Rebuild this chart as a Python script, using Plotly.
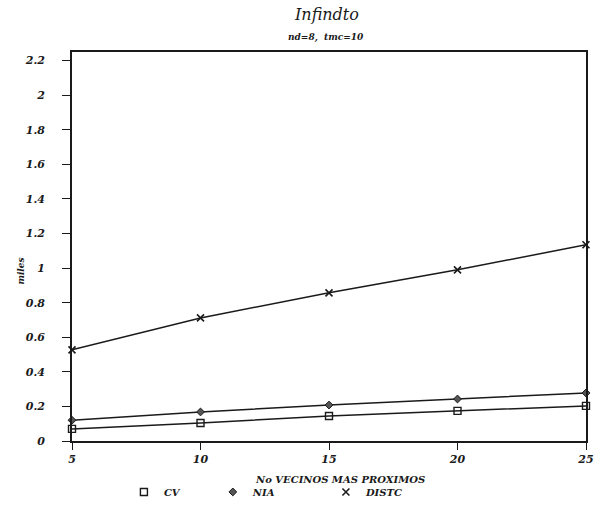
import plotly.graph_objects as go

# Number of nearest neighbours
vecinos = [5, 10, 15, 20, 25]

# Series values
cv = [0.07, 0.104, 0.145, 0.174, 0.203]
nia = [0.12, 0.168, 0.208, 0.243, 0.278]
distc = [0.527, 0.712, 0.857, 0.99, 1.135]

y_ticks = [0, 0.2, 0.4, 0.6, 0.8, 1, 1.2, 1.4, 1.6, 1.8, 2, 2.2]
y_tick_text = ["0", "0.2", "0.4", "0.6", "0.8", "1", "1.2", "1.4", "1.6", "1.8", "2", "2.2"]

ink = "#1a1a1a"
bold_it = dict(family="DejaVu Serif", color=ink, style="italic", weight="bold")
tick_font = dict(bold_it, size=11)

series = [
    ("CV", cv, dict(symbol="square-open", size=7, color=ink, line=dict(width=1.4, color=ink)), "legend", 0.101),
    ("NIA", nia, dict(symbol="diamond", size=6, color="#555555", line=dict(width=1, color=ink)), "legend2", 0.274),
    ("DISTC", distc, dict(symbol="x-thin-open", size=7, color=ink, line=dict(width=1.6, color=ink)), "legend3", 0.494),
]

fig = go.Figure()
for name, vals, mk, lg, lx in series:
    fig.add_trace(go.Scatter(
        x=vecinos, y=vals, mode="lines+markers", name=name,
        line=dict(color=ink, width=1.5), marker=mk, showlegend=False,
        cliponaxis=False,
    ))
# legend entries show the symbol only, each in its own legend box
legend_layout = {}
for name, vals, mk, lg, lx in series:
    fig.add_trace(go.Scatter(
        x=[None], y=[None], mode="markers", name=name, marker=mk,
        showlegend=True, legend=lg,
    ))
    legend_layout[lg] = dict(
        x=lx, xanchor="left", y=-0.131, yanchor="middle",
        font=dict(bold_it, size=10), bgcolor="rgba(0,0,0,0)",
    )

fig.update_layout(
    width=603, height=508,
    margin=dict(l=72, r=17, t=52, b=67, autoexpand=False),
    paper_bgcolor="white", plot_bgcolor="white",
    showlegend=True,
    **legend_layout,
)

fig.add_annotation(text="Infindto", xref="paper", yref="paper", x=0.495, y=1.097,
                   yanchor="middle", showarrow=False,
                   font=dict(family="DejaVu Serif", size=16, color=ink, style="italic"))
fig.add_annotation(text="nd=8,  tmc=10", xref="paper", yref="paper", x=0.495, y=1.036,
                   yanchor="middle", showarrow=False, font=dict(bold_it, size=9))
fig.add_annotation(text="No VECINOS MAS PROXIMOS", xref="paper", yref="paper",
                   x=0.522, y=-0.1, yanchor="middle", showarrow=False,
                   font=dict(bold_it, size=10))
fig.add_annotation(text="miles", xref="paper", yref="paper",
                   x=-0.1, y=0.437, xanchor="center", yanchor="middle",
                   textangle=-90, showarrow=False, font=dict(bold_it, size=9))

fig.update_xaxes(
    range=[5, 25], tickvals=vecinos, ticktext=[str(v) for v in vecinos],
    ticks="outside", ticklen=7, tickwidth=1.4, tickcolor=ink,
    showline=True, linecolor=ink, linewidth=1.6, mirror=True,
    showgrid=False, zeroline=False, tickfont=tick_font, ticklabelstandoff=0,
)
fig.update_yaxes(
    range=[0, 2.25], tickvals=y_ticks, ticktext=y_tick_text,
    ticks="outside", ticklen=8, tickwidth=1.4, tickcolor=ink,
    showline=True, linecolor=ink, linewidth=1.6, mirror=True,
    showgrid=False, zeroline=False, tickfont=tick_font, ticklabelstandoff=15,
)

fig.write_html("out.html")
